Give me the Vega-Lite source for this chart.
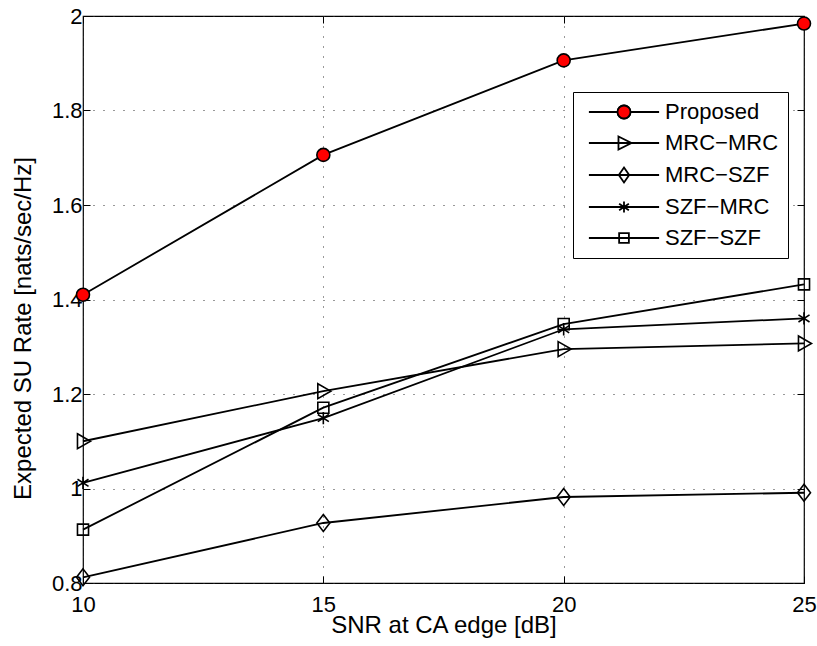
{
  "$schema": "https://vega.github.io/schema/vega-lite/v6.json",
  "width": 721,
  "height": 567,
  "autosize": {"type": "none"},
  "padding": {"left": 83, "top": 16, "right": 13, "bottom": 63},
  "background": "white",
  "config": {
    "font": "Liberation Sans",
    "view": {"stroke": "black", "strokeWidth": 1.2},
    "axis": {"labelFont": "Liberation Sans", "titleFont": "Liberation Sans", "labelColor": "black", "titleColor": "black", "labelFontSize": 22, "titleFontSize": 24, "titleFontWeight": "normal", "domain": false, "tickColor": "black", "tickSize": -7, "tickWidth": 1, "labelFlush": false}
  },
  "data": {"values": [
    {"snr": 10, "rate": 1.41, "scheme": "Proposed"},
    {"snr": 15, "rate": 1.706, "scheme": "Proposed"},
    {"snr": 20, "rate": 1.906, "scheme": "Proposed"},
    {"snr": 25, "rate": 1.984, "scheme": "Proposed"},
    {"snr": 10, "rate": 1.10, "scheme": "MRC−MRC"},
    {"snr": 15, "rate": 1.206, "scheme": "MRC−MRC"},
    {"snr": 20, "rate": 1.295, "scheme": "MRC−MRC"},
    {"snr": 25, "rate": 1.307, "scheme": "MRC−MRC"},
    {"snr": 10, "rate": 0.812, "scheme": "MRC−SZF"},
    {"snr": 15, "rate": 0.927, "scheme": "MRC−SZF"},
    {"snr": 20, "rate": 0.982, "scheme": "MRC−SZF"},
    {"snr": 25, "rate": 0.991, "scheme": "MRC−SZF"},
    {"snr": 10, "rate": 1.012, "scheme": "SZF−MRC"},
    {"snr": 15, "rate": 1.149, "scheme": "SZF−MRC"},
    {"snr": 20, "rate": 1.337, "scheme": "SZF−MRC"},
    {"snr": 25, "rate": 1.36, "scheme": "SZF−MRC"},
    {"snr": 10, "rate": 0.913, "scheme": "SZF−SZF"},
    {"snr": 15, "rate": 1.171, "scheme": "SZF−SZF"},
    {"snr": 20, "rate": 1.348, "scheme": "SZF−SZF"},
    {"snr": 25, "rate": 1.432, "scheme": "SZF−SZF"}
  ]},
  "resolve": {"axis": {"x": "independent", "y": "independent"}, "scale": {"shape": "independent", "fill": "independent"}, "legend": {"shape": "independent", "fill": "independent"}},
  "layer": [
    {
      "mark": {"type": "line", "color": "black", "strokeWidth": 1.8},
      "encoding": {
        "x": {"field": "snr", "type": "quantitative", "scale": {"domain": [10, 25], "nice": false, "zero": false},
              "axis": {"values": [10, 15, 20, 25], "title": "SNR at CA edge [dB]", "orient": "bottom", "grid": true, "gridColor": "#333", "gridDash": [1, 9], "gridWidth": 1, "labelPadding": 18, "titlePadding": -2}},
        "y": {"field": "rate", "type": "quantitative", "scale": {"domain": [0.8, 2.0], "nice": false, "zero": false},
              "axis": {"values": [0.8, 1.0, 1.2, 1.4, 1.6, 1.8, 2.0], "format": "~g", "title": "Expected SU Rate [nats/sec/Hz]", "orient": "left", "grid": true, "gridColor": "#333", "gridDash": [1, 9], "gridWidth": 1, "labelPadding": 8, "titlePadding": 16, "titleY": 312}},
        "detail": {"field": "scheme"}
      }
    },
    {
      "mark": {"type": "point", "stroke": "black", "strokeWidth": 1.6, "opacity": 1, "size": 169},
      "encoding": {
        "x": {"field": "snr", "type": "quantitative",
              "axis": {"values": [10, 15, 20, 25], "title": null, "orient": "top", "labels": false, "grid": false}},
        "y": {"field": "rate", "type": "quantitative",
              "axis": {"values": [0.8, 1.0, 1.2, 1.4, 1.6, 1.8, 2.0], "title": null, "orient": "right", "labels": false, "grid": false}},
        "shape": {"field": "scheme", "type": "nominal",
                  "scale": {"domain": ["Proposed", "MRC−MRC", "MRC−SZF", "SZF−MRC", "SZF−SZF"],
                            "range": ["circle", "M-0.85,-1.15L1.15,0L-0.85,1.15Z", "M0,-1.3L1,0L0,1.3L-1,0Z", "M0,-0.95V0.95M-0.85,-0.55L0.85,0.55M-0.85,0.55L0.85,-0.55", "M-0.85,-0.85H0.85V0.85H-0.85Z"]},
                  "legend": null},
        "fill": {"field": "scheme", "type": "nominal",
                 "scale": {"domain": ["Proposed", "MRC−MRC", "MRC−SZF", "SZF−MRC", "SZF−SZF"],
                           "range": ["#ff0000", "transparent", "transparent", "transparent", "transparent"]},
                 "legend": null}
      }
    },
    {
      "mark": {"type": "point", "filled": false, "stroke": "black", "strokeWidth": 1.8, "opacity": 0},
      "encoding": {
        "x": {"field": "snr", "type": "quantitative", "axis": null},
        "y": {"field": "rate", "type": "quantitative", "axis": null},
        "shape": {"field": "scheme", "type": "nominal",
                  "scale": {"domain": ["Proposed", "MRC−MRC", "MRC−SZF", "SZF−MRC", "SZF−SZF"],
                            "range": ["M-5.4,0H-1M1,0H5.4M-1,0A1,1,0,1,1,1,0A1,1,0,1,1,-1,0Z", "M-5.4,0H5.4M-0.85,-1L1.15,0L-0.85,1Z", "M-5.4,0H5.4M0,-1.15L0.8,0L0,1.15L-0.8,0Z", "M-5.4,0H5.4M0,-0.85V0.85M-0.75,-0.5L0.75,0.5M-0.75,0.5L0.75,-0.5", "M-5.4,0H5.4M-0.75,-0.75H0.75V0.75H-0.75Z"]},
                  "legend": {
                    "title": null, "orient": "none", "legendX": 490, "legendY": 76,
                    "strokeColor": "black", "fillColor": "white", "padding": 9, "cornerRadius": 0,
                    "labelFont": "Liberation Sans", "labelFontSize": 22, "labelColor": "black",
                    "symbolSize": 169, "symbolStrokeColor": "black", "symbolStrokeWidth": 1.8, "symbolOpacity": 1,
                    "symbolOffset": 31, "labelOffset": 30, "rowPadding": 9
                  }}
      }
    },
    {
      "transform": [{"filter": "datum.scheme === 'Proposed'"}],
      "mark": {"type": "point", "filled": true, "opacity": 0},
      "encoding": {
        "x": {"field": "snr", "type": "quantitative", "axis": null},
        "y": {"field": "rate", "type": "quantitative", "axis": null},
        "fill": {"field": "scheme", "type": "nominal",
                 "scale": {"domain": ["Proposed"], "range": ["#ff0000"]},
                 "legend": {
                   "title": null, "orient": "none", "legendX": 490, "legendY": 76,
                   "strokeColor": null, "fillColor": null, "padding": 9, "cornerRadius": 0,
                   "labelFont": "Liberation Sans", "labelFontSize": 22, "labelExpr": "''",
                   "symbolType": "circle", "symbolSize": 169, "symbolStrokeColor": "black", "symbolStrokeWidth": 1.8, "symbolOpacity": 1,
                   "symbolOffset": 31, "labelOffset": 30, "rowPadding": 9
                 }}
      }
    }
  ]
}
